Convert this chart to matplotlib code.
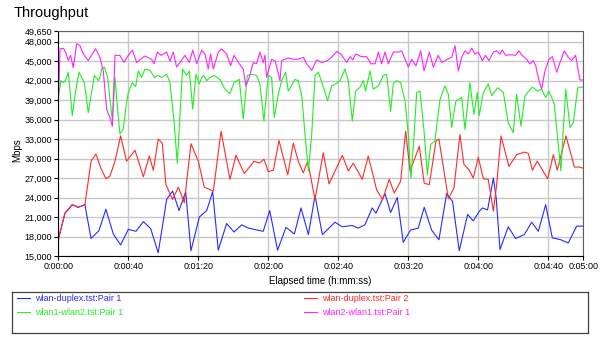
import matplotlib
matplotlib.use("Agg")
import matplotlib.pyplot as plt
from matplotlib.ticker import FuncFormatter
from matplotlib.lines import Line2D

plt.rcParams['font.family'] = ['Liberation Sans', 'DejaVu Sans']

# ---- data (time in seconds, throughput in Mbps) ----
blue_t = [0, 3.8, 8, 11.4, 15.2, 18.7, 23.2, 27.2, 31.4, 35.6, 40, 44.4, 48.6, 52.8, 57.1,
          61.9, 65.3, 69, 72.8, 75.8, 80.6, 84.8, 88.2, 91.4, 96.2, 100.4, 104.8, 108.6, 117.1,
          120.8, 125.3, 130.1, 134.9, 138.7, 142.9, 146.7, 150.9, 158.1, 162.3, 168, 171.4, 175.2,
          179.4, 181.5, 186.7, 189.9, 193.7, 197.1, 201.3, 205.7, 209.1, 213.3, 217.5, 221.9, 225.3,
          229.1, 233.9, 237.1, 240.6, 242.3, 245.3, 248.6, 250.2, 252.4, 257.1, 261.3, 266.3, 270.5,
          274.3, 278.5, 282.3, 287.2, 291.4, 296.2, 300]
blue_v = [17500, 21600, 22900, 22500, 22900, 17700, 18900, 22200, 18400, 16700, 19100, 18800, 20300, 19200, 15500,
          23700, 25000, 22000, 24900, 15800, 21000, 22000, 24900, 15900, 20000, 18700, 19800, 19300, 18800,
          22000, 15900, 19400, 18400, 22400, 18300, 24300, 18300, 20200, 19500, 19700, 19300, 19800,
          22400, 21600, 24600, 21700, 24000, 17100, 19000, 19300, 22500, 19000, 17500, 24600, 23400,
          15800, 21400, 20400, 21900, 22400, 22100, 27000, 24000, 16000, 19500, 17700, 18300, 20200,
          18800, 22900, 17800, 17500, 17000, 19600, 19600]

red_t = [0, 3.8, 8, 11.4, 15.2, 18.7, 21.5, 24.2, 27.2, 29.5, 32.4, 35.6, 39, 43.8, 48.6, 52, 54.3, 57.1,
         59.4, 61.5, 65.3, 68.6, 72, 75.8, 80, 83.4, 88.6, 93, 98.1, 101.5, 106.3, 111.8, 114.9, 117.5,
         120, 122.9, 126.1, 131.1, 134.3, 137.1, 140, 142.5, 146.7, 151.4, 154.7, 162.3, 165.7, 168.6,
         173.7, 177.1, 181.9, 185.3, 189.1, 192, 195.6, 198.5, 201, 206.3, 209.1, 212, 215.8, 217.5,
         222.9, 226.1, 229.5, 231.8, 234.9, 237.1, 240, 242.9, 245.7, 248.6, 250.5, 253, 257.5, 261.9,
         266.3, 268.6, 270.9, 273.7, 279.6, 282.9, 285.1, 290.1, 294.9, 298.1, 300]
red_v = [17500, 21600, 22900, 22500, 22900, 29600, 30700, 28600, 26900, 27300, 29600, 33500, 29600, 31300,
         27200, 30400, 28200, 33000, 32400, 26000, 23700, 25600, 23200, 32300, 29600, 25600, 25000, 34200,
         26800, 30500, 27700, 29600, 29300, 29900, 28000, 28200, 32800, 27500, 32400, 29600, 27800, 29600,
         23700, 30900, 26100, 30500, 28100, 29300, 26800, 30400, 25200, 23700, 26800, 24700, 26500, 34200,
         28100, 31900, 26200, 26000, 32700, 33000, 23800, 25500, 33700, 29100, 28200, 27000, 30200, 26900,
         26800, 21900, 26000, 33500, 28800, 30600, 31000, 30800, 28200, 29600, 26900, 30600, 28200, 33500,
         28700, 28700, 28500]

green_t = [0, 1.5, 2.9, 4.2, 5.7, 8, 9.9, 11.8, 14.9, 17.1, 20.6, 22.9, 23.8, 24.8, 26.3, 28.2, 30.9,
           32.4, 33.9, 35.2, 37.1, 38.5, 40, 42.3, 44.2, 45.7, 47.6, 49.5, 52.4, 54.9, 57.1, 59, 61.9,
           63.8, 66.1, 68, 71, 73.3, 74.9, 76.8, 78.7, 80.6, 81.9, 83.2, 84.8, 86.7, 89, 92.4, 95.2,
           98.1, 100.4, 103.4, 105.7, 108, 110.5, 113.3, 115.2, 117.5, 118.1, 120, 121.9, 123.4, 125.7,
           127.6, 129.9, 131.4, 135.2, 137.1, 139.1, 141, 142.9, 144.8, 146.7, 148.6, 150.9, 153.9,
           156.2, 158.5, 161, 163.8, 165.7, 168, 169.9, 172.4, 174.3, 175.6, 178.1, 180, 182.9, 185.7,
           187.6, 189.9, 191.4, 193.3, 195.6, 198.1, 200, 201.5, 203.2, 204.8, 206.7, 209, 210.9, 212.8,
           215.2, 218.1, 220.9, 222.9, 224.8, 227.2, 230.5, 232.4, 235.2, 237.5, 239.4, 240.5, 242.9,
           245.7, 247.6, 251.1, 254.3, 257.1, 260, 261.9, 264.4, 266.7, 270.9, 273.9, 276.2, 278.5,
           280.4, 283.4, 285.7, 287.2, 288.6, 290, 292.4, 294.3, 296.8, 298.1, 300]
green_v = [39400, 42000, 41700, 42100, 43300, 36600, 40400, 43300, 41700, 37100, 42800, 42000, 42500,
           43800, 44100, 42500, 35800, 42500, 37600, 33800, 34500, 37600, 40200, 41700, 41100, 43500,
           42500, 43800, 43600, 42500, 42800, 42500, 43000, 41700, 35800, 29300, 43800, 42800, 43500,
           37600, 43000, 41500, 42500, 42800, 42000, 42500, 42800, 42200, 40700, 40000, 41700, 42200,
           36100, 42800, 43000, 42800, 41500, 35800, 37600, 42800, 42500, 36300, 39900, 42000, 43300,
           40400, 42200, 42000, 39700, 33700, 28100, 33700, 42800, 43300, 41500, 38900, 41200, 41500,
           42000, 43800, 42000, 35800, 40400, 41000, 42000, 40400, 43500, 40700, 41200, 42800, 43000,
           37300, 41500, 42000, 41700, 38900, 33700, 27000, 33200, 40200, 40400, 34200, 27500, 32200,
           32700, 39100, 41200, 39900, 34800, 38900, 39400, 34500, 41700, 36800, 40200, 36600, 40200,
           41500, 39700, 40900, 40200, 35500, 34000, 39900, 35000, 39700, 41000, 40400, 40700, 39400,
           40400, 38400, 32200, 28100, 34800, 40700, 34800, 35500, 40900, 41000, 41000]

mag_t = [0, 1, 2.9, 4.2, 5.7, 7, 8.6, 10.5, 12.4, 14.3, 17.1, 19.4, 21.3, 23.8, 25.7, 27.6, 29.5, 30.9,
         32.4, 35.2, 37.5, 40, 42.3, 44.8, 47, 49.5, 53.3, 54.7, 56.6, 58.7, 61.9, 63.8, 65.7, 67.6,
         69.5, 72.4, 74.9, 76.8, 79.1, 81.9, 83.8, 85.7, 87, 88.6, 91.4, 93.3, 96.2, 98.5, 100.4, 103.4,
         105.7, 107.2, 109.1, 111.4, 113.3, 115.2, 117.1, 118.1, 119, 121.9, 124, 126.7, 127.6, 129.5,
         131.4, 134.3, 137.1, 140, 141.9, 144.8, 147.6, 150.5, 153.9, 156.2, 159.1, 161.5, 164.8,
         166.7, 168.2, 169.9, 173.3, 176.2, 178.7, 181, 182.9, 184.8, 186.7, 188.6, 191.4, 194.3,
         196.2, 200, 201.9, 204.4, 207.1, 209, 212, 214.3, 217.1, 219.1, 222.3, 224.8, 226.7, 228.6,
         230.5, 232.4, 234.3, 236.2, 238.1, 240, 242.3, 244.2, 246.1, 248.6, 250.5, 252.4, 253.7,
         255.6, 258.7, 261.3, 263.2, 265.1, 267.6, 269.5, 271.4, 272.8, 274.7, 276.2, 278.1, 280.4,
         282.3, 284.8, 286.7, 289.1, 291.4, 293.3, 295.6, 298.1, 300]
mag_v = [38400, 46900, 47000, 46400, 45100, 45900, 44000, 47700, 47400, 46100, 45100, 46100, 46900,
         45600, 43500, 37600, 36300, 35000, 45900, 45900, 44800, 45900, 46700, 44800, 45300, 45800,
         45300, 44600, 46400, 45900, 46400, 45000, 46400, 44100, 44800, 45900, 44800, 46700, 44600,
         46700, 46100, 43800, 46100, 43800, 46400, 46900, 46100, 44300, 45900, 44600, 43800, 41200,
         42500, 44800, 44600, 46400, 44800, 45900, 42500, 45300, 45000, 42000, 45100, 45300, 45500,
         45300, 45300, 45600, 44600, 43600, 45200, 44800, 45100, 45600, 46500, 46100, 44800, 45700,
         45200, 46100, 45700, 45700, 44600, 44600, 46400, 44600, 46400, 44600, 46400, 46400, 46600,
         44100, 45300, 44300, 46600, 43500, 46400, 44100, 45900, 44800, 45300, 45600, 47400, 43500,
         45600, 46600, 46100, 47000, 46100, 46400, 45100, 45900, 45100, 46400, 46600, 46100, 46700,
         45900, 46000, 45900, 46600, 45900, 45300, 44600, 45100, 44300, 42000, 40700, 43500, 45300,
         45700, 43300, 44800, 46600, 45600, 45100, 45900, 42100, 42100]

series = [
    ("wlan-duplex.tst:Pair 1", blue_t, blue_v, "#2a2aff"),
    ("wlan-duplex.tst:Pair 2", red_t, red_v, "#ff2a2a"),
    ("wlan1-wlan2.tst:Pair 1", green_t, green_v, "#22ee22"),
    ("wlan2-wlan1.tst:Pair 1", mag_t, mag_v, "#ff22ff"),
]

y_ticks = [15000, 18000, 21000, 24000, 27000, 30000, 33000, 36000, 39000, 42000, 45000, 48000, 49650]
x_ticks = [0, 40, 80, 120, 160, 200, 240, 280, 300]

# ---- figure ----
W, H = 600, 341
fig = plt.figure(figsize=(W / 100, H / 100), dpi=100)
L, R, T, B = 58.3, 583.3, 31, 256
ax = fig.add_axes([L / W, 1 - B / H, (R - L) / W, (B - T) / H])

lines = {}
for name, t, v, c in series:
    ln, = ax.plot(t, v, color=c, lw=0.8, label=name)
    lines[name] = ln

ax.set_xlim(0, 300)
ax.set_ylim(15000, 49650)
ax.set_yticks(y_ticks)
ax.set_xticks(x_ticks)
ax.yaxis.set_major_formatter(FuncFormatter(lambda v, p: f"{int(round(v)):,}"))
ax.xaxis.set_major_formatter(FuncFormatter(
    lambda v, p: f"{int(v)//3600}:{(int(v)%3600)//60:02d}:{int(v)%60:02d}"))
ax.grid(True, color="#c8c8c8", lw=1.0)
ax.set_axisbelow(True)
ax.tick_params(axis='both', labelsize=6.5, length=3, width=0.8, pad=1.5, colors='black')
for s in ['left', 'bottom']:
    ax.spines[s].set_color('black')
    ax.spines[s].set_linewidth(0.8)
for s in ['top', 'right']:
    ax.spines[s].set_color('#606060')
    ax.spines[s].set_linewidth(0.8)

fig.text(17 / W, 1 - 150 / H, "Mbps", rotation=90, ha='center', va='center', fontsize=7)
fig.text(320 / W, 1 - 281 / H, "Elapsed time (h:mm:ss)", ha='center', va='center', fontsize=7)
fig.text(14 / W, 1 - 13 / H, "Throughput", ha='left', va='center', fontsize=10.5)

# ---- legend box ----
lax = fig.add_axes([12 / W, 1 - 333 / H, 576 / W, 41 / H])
lax.set_xticks([])
lax.set_yticks([])
for s in lax.spines.values():
    s.set_color('#404040')
    s.set_linewidth(0.9)
lax.patch.set_alpha(0)

col1 = [lines["wlan-duplex.tst:Pair 1"], lines["wlan1-wlan2.tst:Pair 1"]]
col2 = [lines["wlan-duplex.tst:Pair 2"], lines["wlan2-wlan1.tst:Pair 1"]]
kw = dict(loc='upper left', frameon=False, fontsize=6.5, handlelength=1.4,
          handletextpad=0.6, labelspacing=0.55, borderpad=0, borderaxespad=0,
          labelcolor='linecolor')
leg1 = fig.legend(handles=col1, labels=[l.get_label() for l in col1],
                  bbox_to_anchor=(17 / W, 1 - 294 / H), **kw)
leg2 = fig.legend(handles=col2, labels=[l.get_label() for l in col2],
                  bbox_to_anchor=(304 / W, 1 - 294 / H), **kw)

fig.savefig("out.png", dpi=100)
